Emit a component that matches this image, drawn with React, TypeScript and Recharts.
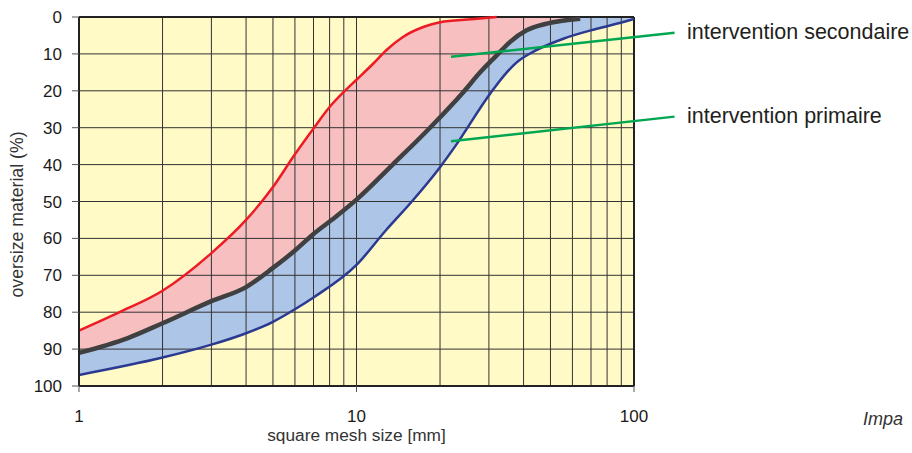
import { ComposedChart, Area, Line, XAxis, YAxis, CartesianGrid, ReferenceLine, Label } from "recharts";

// sieve curves: mesh size (mm) -> oversize material (%)
const redSize = [1, 1.4, 2, 3, 4, 5, 6, 7, 8, 9, 10, 11.5, 12.8, 14.7, 17.4, 20, 26, 32];
const redOversize = [85, 80, 74.2, 64, 55, 46.1, 37.2, 30.2, 24.4, 20.3, 17, 12.6, 9, 5.4, 2.7, 1.4, 0.6, 0];

const graySize = [1, 1.5, 2, 3, 4, 5, 6, 7, 8.4, 10, 13.5, 18.4, 24.3, 27.9, 32, 35.7, 41, 48.5, 64];
const grayOversize = [91, 87, 83, 77, 73.2, 68, 63.3, 58.8, 54.2, 49.5, 40, 30, 20.3, 15, 10.4, 6.8, 3.6, 1.8, 0.45];

const blueSize = [1, 2, 3, 4, 5, 6, 7, 10, 12.7, 16, 20, 22.6, 30.3, 34.8, 38.5, 42.2, 55.6, 73.4, 91.5, 100];
const blueOversize = [97, 92.3, 88.8, 85.7, 82.6, 79.2, 76, 67.2, 58, 49.6, 40.7, 35.2, 20.8, 15, 11.8, 9.9, 5.9, 3.2, 1.36, 0.5];

const xTicks = [1, 10, 100];
const yTicks = [0, 10, 20, 30, 40, 50, 60, 70, 80, 90, 100];
const xGrid = [2, 3, 4, 5, 6, 7, 8, 9, 10, 20, 30, 40, 50, 60, 70, 80, 90];
const yGrid = [10, 20, 30, 40, 50, 60, 70, 80, 90];

const secondaireLine = [{ x: 21.9, y: 10.8 }, { x: 140, y: 4.3 }];
const primaireLine = [{ x: 21.9, y: 33.7 }, { x: 140, y: 27 }];

const toRows = (sizes: number[], vals: number[]) => sizes.map((s, i) => ({ size: s, v: vals[i] }));
const redData = toRows(redSize, redOversize);
const grayData = toRows(graySize, grayOversize);
const blueData = toRows(blueSize, blueOversize);

const FONT = "'Liberation Sans', Arial, sans-serif";

export default function App() {
  return (
    <div style={{ position: "absolute", left: 0, top: 0, width: 912, height: 453, background: "#fff", fontFamily: FONT }}>
      <ComposedChart width={912} height={453} margin={{ top: 17, right: 278, bottom: 0, left: 0 }}>
        <CartesianGrid fill="#fffac6" horizontal={false} vertical={false} />
        <XAxis
          dataKey="size"
          type="number"
          scale="log"
          domain={[1, 100]}
          ticks={xTicks}
          allowDataOverflow
          height={67}
          tickSize={6}
          tickMargin={18}
          axisLine={{ stroke: "#222", strokeWidth: 2 }}
          tickLine={{ stroke: "#555" }}
          tick={{ fontSize: 17, fill: "#1a1a1a", fontFamily: FONT }}
        >
          <Label
            content={(p: any) => (
              <text x={p.viewBox.x + p.viewBox.width / 2} y={p.viewBox.y + 55} textAnchor="middle" fontSize={17.3} fill="#333" fontFamily={FONT}>
                square mesh size [mm]
              </text>
            )}
          />
        </XAxis>
        <YAxis
          type="number"
          domain={[0, 100]}
          reversed
          ticks={yTicks}
          width={79}
          tickSize={7}
          tickMargin={10}
          axisLine={{ stroke: "#222", strokeWidth: 2 }}
          tickLine={{ stroke: "#555" }}
          tick={{ fontSize: 17, fill: "#1a1a1a", fontFamily: FONT }}
        >
          <Label
            content={(p: any) => {
              const cx = p.viewBox.x + 23;
              const cy = p.viewBox.y + p.viewBox.height / 2 + 13;
              return (
                <text x={cx} y={cy} transform={`rotate(-90 ${cx} ${cy})`} textAnchor="middle" fontSize={17.7} fill="#333" fontFamily={FONT}>
                  oversize material (%)
                </text>
              );
            }}
          />
        </YAxis>

        <Area data={blueData} dataKey="v" type="monotone" baseValue={0} fill="#adc5e7" fillOpacity={1} stroke="none" isAnimationActive={false} />
        <Area data={grayData} dataKey="v" type="monotone" baseValue={0} fill="#f8bfc0" fillOpacity={1} stroke="none" isAnimationActive={false} />
        <Area data={redData} dataKey="v" type="monotone" baseValue={0} fill="#fffac6" fillOpacity={1} stroke="none" isAnimationActive={false} />

        {xGrid.map((g) => (
          <ReferenceLine key={"x" + g} x={g} stroke="#333" strokeWidth={1} zIndex={150} />
        ))}
        {yGrid.map((g) => (
          <ReferenceLine key={"y" + g} y={g} stroke="#333" strokeWidth={1} zIndex={150} />
        ))}
        <ReferenceLine y={0} stroke="#222" strokeWidth={2} zIndex={150} />
        <ReferenceLine x={100} stroke="#222" strokeWidth={2} zIndex={150} />

        <Line data={blueData} dataKey="v" type="monotone" stroke="#2b3990" strokeWidth={2.5} dot={false} isAnimationActive={false} />
        <Line data={grayData} dataKey="v" type="monotone" stroke="#404040" strokeWidth={4.5} dot={false} isAnimationActive={false} />
        <Line data={redData} dataKey="v" type="monotone" stroke="#ed1c24" strokeWidth={2.5} dot={false} isAnimationActive={false} />

        <ReferenceLine segment={secondaireLine} stroke="#00a651" strokeWidth={2.5} ifOverflow="visible" zIndex={450} />
        <ReferenceLine segment={primaireLine} stroke="#00a651" strokeWidth={2.5} ifOverflow="visible" zIndex={450} />
      </ComposedChart>
      <svg width={912} height={453} style={{ position: "absolute", left: 0, top: 0, pointerEvents: "none", overflow: "hidden" }}>
        <text x={687} y={39} fontSize={21.5} fill="#231f20" fontFamily={FONT}>intervention secondaire</text>
        <text x={687} y={123} fontSize={21.5} fill="#231f20" fontFamily={FONT}>intervention primaire</text>
        <text x={863} y={425} fontSize={18} fontStyle="italic" fill="#333" fontFamily={FONT}>Impa</text>
      </svg>
    </div>
  );
}
